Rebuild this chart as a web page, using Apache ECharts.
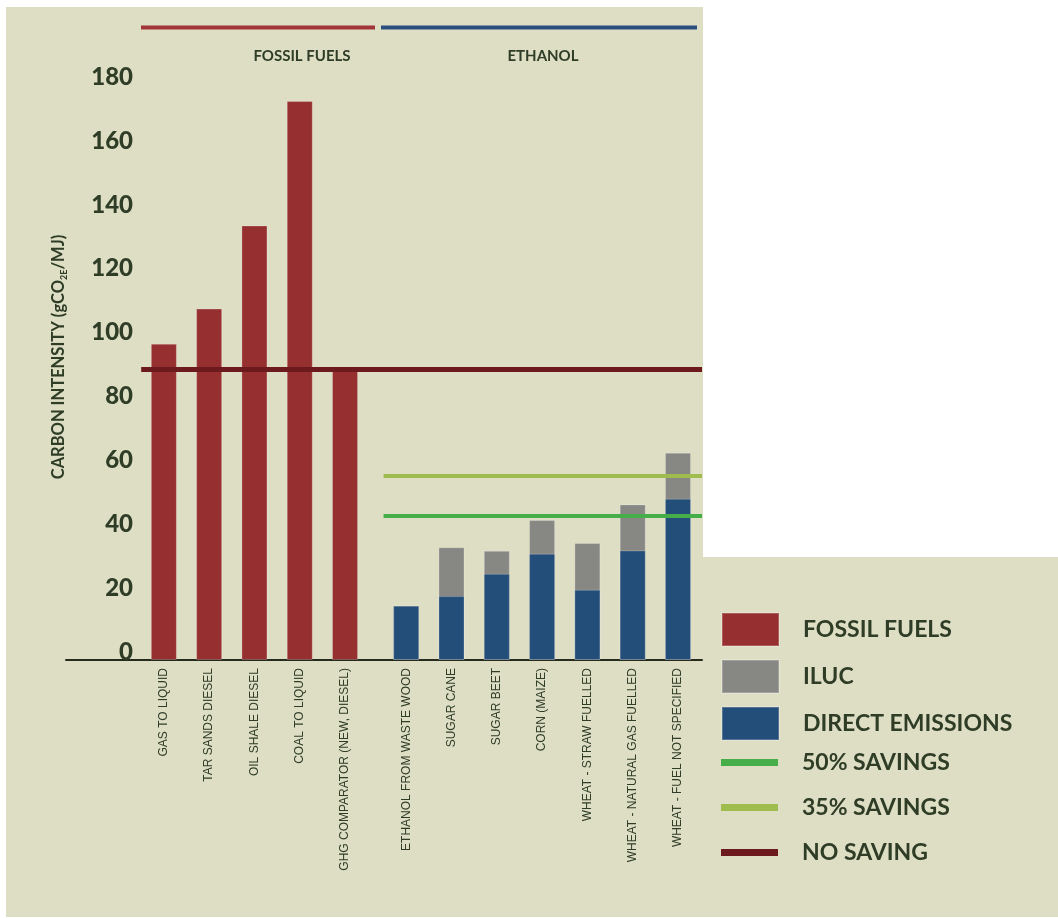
<!DOCTYPE html>
<html>
<head>
<meta charset="utf-8">
<title>Carbon intensity</title>
<script src="https://cdn.jsdelivr.net/npm/echarts@6/dist/echarts.min.js"></script>
<style>
  html, body { margin: 0; padding: 0; background: #fff; }
  #chart { width: 1058px; height: 918px; }
</style>
</head>
<body>
<div id="chart"></div>
<script>
// categories
const fossilNames = ['GAS TO LIQUID', 'TAR SANDS DIESEL', 'OIL SHALE DIESEL', 'COAL TO LIQUID', 'GHG COMPARATOR (NEW, DIESEL)']
const ethanolNames = ['ETHANOL FROM WASTE WOOD', 'SUGAR CANE', 'SUGAR BEET', 'CORN (MAIZE)', 'WHEAT - STRAW FUELLED', 'WHEAT - NATURAL GAS FUELLED', 'WHEAT - FUEL NOT SPECIFIED']

// gCO2e/MJ
const fossilValues = [99, 110, 136, 175, 91]
const directValues = [17, 20, 27, 33.3, 22, 34.3, 50.5]
const ilucTopValues = [17, 35.3, 34.2, 43.8, 36.6, 48.7, 64.9] // direct + ILUC

const noSaving = 91
const savings35 = 57.6
const savings50 = 45.1

const yTicks = [0, 20, 40, 60, 80, 100, 120, 140, 160, 180]

const textColor = '#2f3d26'
const labelFont = 'Lato'
const barW = 26

// one unit per bar, the ethanol group is pushed a bit to the right
const groupGap = 0.35
const fossilX = fossilNames.map((n, i) => i)
const ethanolX = ethanolNames.map((n, i) => fossilNames.length + groupGap + i)
const allX = fossilX.concat(ethanolX)
const allNames = fossilNames.concat(ethanolNames)

function nameAt(v) {
  for (let i = 0; i < allX.length; i++) {
    if (Math.abs(allX[i] - v) < 0.01) return allNames[i]
  }
  return ''
}

// empty bar series only to carry the reference line and its legend entry
function refLine(name, value, from, color, width) {
  return {
    name: name,
    type: 'bar',
    barWidth: barW,
    barGap: '-100%',
    data: [],
    itemStyle: { color: color },
    markLine: {
      silent: true,
      symbol: ['none', 'none'],
      label: { show: false },
      lineStyle: { color: color, width: width, type: 'solid' },
      data: [[{ coord: [from, value] }, { coord: [11.88, value] }]]
    }
  }
}

const barBorder = 'rgba(255,255,255,0.22)'

const chart = echarts.init(document.getElementById('chart'))

chart.setOption({
  backgroundColor: '#ffffff',
  animation: false,
  graphic: [
    {
      type: 'polygon',
      z: -100,
      shape: { points: [[6, 7], [703, 7], [703, 557], [1058, 557], [1058, 917], [6, 917]] },
      style: { fill: '#dedec5' }
    },
    { type: 'rect', shape: { x: 141, y: 25.5, width: 234, height: 4 }, style: { fill: '#a13539' } },
    { type: 'rect', shape: { x: 381, y: 25.5, width: 316, height: 4 }, style: { fill: '#2a4f7f' } },
    {
      type: 'text',
      style: { text: 'FOSSIL FUELS', x: 302, y: 56, align: 'center', verticalAlign: 'middle', textAlign: 'center', textVerticalAlign: 'middle', font: 'bold 15px Lato', fill: textColor }
    },
    {
      type: 'text',
      style: { text: 'ETHANOL', x: 543, y: 56, align: 'center', verticalAlign: 'middle', textAlign: 'center', textVerticalAlign: 'middle', font: 'bold 15px Lato', fill: textColor }
    }
  ],
  grid: {
    left: 66,
    right: 356,
    top: 85,
    bottom: 258,
    containLabel: false,
    outerBoundsMode: 'none'
  },
  legend: [
    {
      data: ['FOSSIL FUELS', 'ILUC', 'DIRECT EMISSIONS'],
      orient: 'vertical',
      left: 721,
      top: 612,
      padding: 0,
      icon: 'rect',
      itemWidth: 57,
      itemHeight: 33,
      itemGap: 12,
      selectedMode: false,
      textStyle: { fontFamily: labelFont, fontWeight: 'bold', fontSize: 23, color: textColor, padding: [0, 0, 0, 19] }
    },
    {
      data: ['50% SAVINGS', '35% SAVINGS', 'NO SAVING'],
      orient: 'vertical',
      left: 721,
      top: 746,
      padding: 0,
      icon: 'rect',
      itemWidth: 57,
      itemHeight: 7,
      itemGap: 12,
      selectedMode: false,
      textStyle: { fontFamily: labelFont, fontWeight: 'bold', fontSize: 23, lineHeight: 33, color: textColor, padding: [0, 0, 0, 19] }
    }
  ],
  xAxis: {
    type: 'value',
    min: -2.16,
    max: 11.88,
    axisLine: { lineStyle: { color: '#262b1e', width: 2 } },
    axisTick: { show: false },
    splitLine: { show: false },
    axisLabel: {
      customValues: allX,
      rotate: 90,
      margin: 8,
      formatter: nameAt,
      fontFamily: '"Liberation Sans", sans-serif',
      fontSize: 12,
      color: textColor
    }
  },
  yAxis: {
    type: 'value',
    min: 0,
    max: 180,
    interval: 20,
    axisLine: { show: false },
    axisTick: { show: false },
    splitLine: { show: false },
    axisLabel: {
      inside: true,
      margin: 67,
      align: 'right',
      verticalAlign: 'bottom',
      lineHeight: 16,
      fontFamily: labelFont,
      fontWeight: 900,
      fontSize: 24,
      color: textColor,
      formatter: v => (yTicks.indexOf(v) >= 0 ? String(v) : '')
    },
    name: '{a|CARBON INTENSITY (gCO}{s|2E}{a|/MJ)}',
    nameLocation: 'middle',
    nameGap: -3,
    nameTextStyle: {
      padding: [0, 0, 0, 31],
      rich: {
        a: { fontFamily: labelFont, fontWeight: 'bold', fontSize: 16.5, color: textColor, lineHeight: 20 },
        s: { fontFamily: labelFont, fontWeight: 'bold', fontSize: 9, color: textColor, lineHeight: 10, verticalAlign: 'bottom' }
      }
    }
  },
  series: [
    {
      name: 'FOSSIL FUELS',
      type: 'bar',
      barWidth: barW,
      barGap: '-100%',
      itemStyle: { color: '#952f30', borderColor: barBorder, borderWidth: 1 },
      data: fossilX.map((x, i) => [x, fossilValues[i]])
    },
    {
      name: 'ILUC',
      type: 'bar',
      barWidth: barW,
      barGap: '-100%',
      itemStyle: { color: '#878884', borderColor: barBorder, borderWidth: 1 },
      data: ethanolX.map((x, i) => [x, ilucTopValues[i]])
    },
    {
      name: 'DIRECT EMISSIONS',
      type: 'bar',
      barWidth: barW,
      barGap: '-100%',
      itemStyle: { color: '#234e79', borderColor: barBorder, borderWidth: 1 },
      data: ethanolX.map((x, i) => [x, directValues[i]])
    },
    refLine('50% SAVINGS', savings50, ethanolX[0] - 0.5, '#46ae48', 4),
    refLine('35% SAVINGS', savings35, ethanolX[0] - 0.5, '#9fbd4f', 4),
    refLine('NO SAVING', noSaving, fossilX[0] - 0.5, '#6d1a1f', 5)
  ]
})
</script>
</body>
</html>
